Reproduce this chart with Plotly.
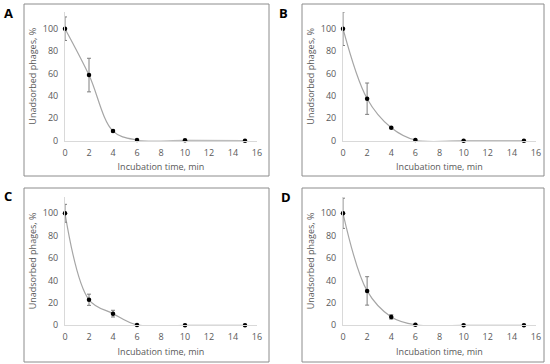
import plotly.graph_objects as go

time_min = [0, 2, 4, 6, 10, 15]
series_a = [100, 58.6, 8.6, 0.6, 0.3, 0.0]
error_a = [10.5, 15, 1, 0, 0, 0]
series_b = [100, 37.5, 11.6, 0.6, 0.0, 0.0]
error_b = [15, 14, 0.6, 0, 0, 0]
series_c = [100, 22.8, 10.4, 0.3, 0.0, 0.0]
error_c = [8, 5, 3, 0, 0, 0]
series_d = [100, 30.7, 7.5, 0.5, 0.0, 0.0]
error_d = [13.5, 12.7, 2, 0, 0, 0]
panel_labels = ["A", "B", "C", "D"]
x_ticks = [0, 2, 4, 6, 8, 10, 12, 14, 16]
y_ticks = [0, 20, 40, 60, 80, 100]

W, H = 550, 364
FONT = "Open Sans"
TICK_COLOR = "#595959"

panels = [
    dict(xl=65, xr=257, y0=140.7, box=(24, 4, 269, 176), lab=(8, 13)),
    dict(xl=343, xr=536, y0=140.7, box=(302, 4, 544, 176), lab=(283, 13)),
    dict(xl=65, xr=257, y0=325.3, box=(24, 188, 269, 362), lab=(8, 196)),
    dict(xl=343, xr=536, y0=325.3, box=(302, 188, 544, 362), lab=(286, 197)),
]
YMAX = 115
YSCALE = 1.12

data_sets = [(series_a, error_a), (series_b, error_b), (series_c, error_c), (series_d, error_d)]

fig = go.Figure()
layout = dict(
    width=W, height=H, margin=dict(l=0, r=0, t=0, b=0, autoexpand=False),
    paper_bgcolor="white", plot_bgcolor="white", showlegend=False,
    font=dict(family=FONT, color=TICK_COLOR, size=9),
)
shapes = []
annotations = []
for i, (p, (vals, errs)) in enumerate(zip(panels, data_sets)):
    n = "" if i == 0 else str(i + 1)
    xa, ya = "x" + n, "y" + n
    top = p["y0"] - YMAX * YSCALE
    xdom = [p["xl"] / W, p["xr"] / W]
    ydom = [1 - p["y0"] / H, 1 - top / H]
    layout["xaxis" + n] = dict(
        domain=xdom, anchor=ya, range=[0, 16], tickvals=x_ticks, automargin=False,
        showgrid=False, zeroline=False, showline=True, linecolor="#d9d9d9",
        linewidth=1, ticks="", ticklen=0, ticklabelstandoff=3,
        tickfont=dict(size=9, color=TICK_COLOR),
        title=dict(text="Incubation time, min", font=dict(size=9, color=TICK_COLOR), standoff=6),
    )
    layout["yaxis" + n] = dict(
        domain=ydom, anchor=xa, range=[0, YMAX], tickvals=y_ticks, automargin=False,
        showgrid=False, zeroline=False, showline=True, linecolor="#d9d9d9",
        linewidth=1, ticks="", ticklabelstandoff=4,
        tickfont=dict(size=9, color=TICK_COLOR),
        title=dict(text="Unadsorbed phages, %", font=dict(size=9, color=TICK_COLOR), standoff=4),
    )
    fig.add_trace(go.Scatter(
        x=time_min, y=vals, xaxis=xa, yaxis=ya, mode="lines",
        line=dict(color="#a6a6a6", width=1.2, shape="spline", smoothing=1),
        hoverinfo="skip", cliponaxis=False,
    ))
    fig.add_trace(go.Scatter(
        x=time_min, y=vals, xaxis=xa, yaxis=ya, mode="markers",
        marker=dict(color="black", size=4.5, symbol="circle"),
        error_y=dict(type="data", array=errs, visible=True, color="#7f7f7f", thickness=1, width=2),
        cliponaxis=False,
    ))
    bx0, by0, bx1, by1 = p["box"]
    shapes.append(dict(type="rect", xref="paper", yref="paper",
                       x0=bx0 / W, x1=bx1 / W, y0=1 - by1 / H, y1=1 - by0 / H,
                       line=dict(color="#8c8c8c", width=1), fillcolor="rgba(0,0,0,0)"))
    lx, ly = p["lab"]
    annotations.append(dict(text="<b>" + panel_labels[i] + "</b>", xref="paper", yref="paper",
                            x=lx / W, y=1 - ly / H, showarrow=False,
                            font=dict(family=FONT, size=13, color="black"),
                            xanchor="center", yanchor="middle"))

layout["shapes"] = shapes
layout["annotations"] = annotations
fig.update_layout(**layout)
fig.write_html("out.html", config={"displayModeBar": False},
               post_script="document.body.style.margin='0';")
